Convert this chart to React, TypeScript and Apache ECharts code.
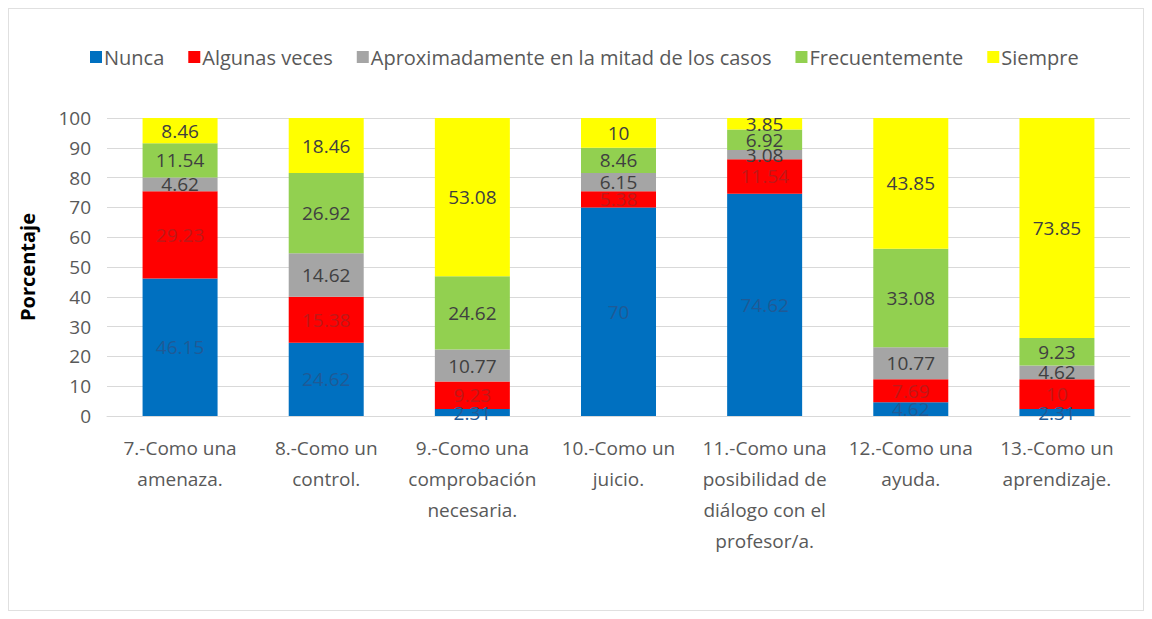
import React, { useEffect, useRef } from "react";
import * as echarts from "echarts";

const categories = [
  "7.-Como una\namenaza.",
  "8.-Como un\ncontrol.",
  "9.-Como una\ncomprobación\nnecesaria.",
  "10.-Como un\njuicio.",
  "11.-Como una\nposibilidad de\ndiálogo con el\nprofesor/a.",
  "12.-Como una\nayuda.",
  "13.-Como un\naprendizaje.",
];
const nunca = [46.15, 24.62, 2.31, 70, 74.62, 4.62, 2.31];
const algunas = [29.23, 15.38, 9.23, 5.38, 11.54, 7.69, 10];
const mitad = [4.62, 14.62, 10.77, 6.15, 3.08, 10.77, 4.62];
const frecuente = [11.54, 26.92, 24.62, 8.46, 6.92, 33.08, 9.23];
const siempre = [8.46, 18.46, 53.08, 10, 3.85, 43.85, 73.85];
const seriesNames = [
  "Nunca",
  "Algunas veces",
  "Aproximadamente en la mitad de los casos",
  "Frecuentemente",
  "Siempre",
];
const yTicks = [0, 10, 20, 30, 40, 50, 60, 70, 80, 90, 100];

const FONT = "'Open Sans', 'Noto Sans', sans-serif";

export default function App() {
  const ref = useRef<HTMLDivElement>(null);
  useEffect(() => {
    if (!ref.current) return;
    const chart = echarts.init(ref.current, undefined, { renderer: "svg" });
    const data = [nunca, algunas, mitad, frecuente, siempre];
    const colors = ["#0070C0", "#FF0000", "#A5A5A5", "#92D050", "#FFFF00"];
    const labelColors = ["#1f5a96", "#c01818", "#404040", "#404040", "#404040"];
    chart.setOption({
      animation: false,
      color: colors,
      legend: {
        top: 33,
        left: 76,
        itemWidth: 12,
        itemHeight: 12,
        itemGap: 24,
        icon: "rect",
        textStyle: { fontFamily: FONT, fontSize: 20, color: "#595959", padding: [0, 0, 0, -3] },
        data: seriesNames,
      },
      grid: { left: 98, right: 13, top: 109, bottom: 194 },
      xAxis: {
        type: "category",
        data: categories,
        axisTick: { show: false },
        axisLine: { lineStyle: { color: "#d9d9d9" } },
        axisLabel: {
          fontFamily: FONT,
          fontSize: 19,
          color: "#595959",
          lineHeight: 31,
          margin: 16,
          interval: 0,
        },
      },
      yAxis: {
        type: "value",
        min: 0,
        max: 100,
        interval: 10,
        name: "Porcentaje",
        nameLocation: "middle",
        nameGap: 70,
        nameTextStyle: { fontFamily: FONT, fontSize: 20, fontWeight: "bold", color: "#000" },
        axisLabel: {
          fontFamily: FONT,
          fontSize: 19,
          color: "#595959",
          margin: 16,
          formatter: (v: number) => (yTicks.includes(v) ? String(v) : ""),
        },
        splitLine: { lineStyle: { color: "#d9d9d9" } },
        axisLine: { show: false },
        axisTick: { show: false },
      },
      series: seriesNames.map((name, i) => ({
        name,
        type: "bar",
        stack: "total",
        barWidth: 75,
        data: data[i],
        itemStyle: { color: colors[i] },
        label: {
          show: true,
          position: "inside",
          fontFamily: FONT,
          fontSize: 19,
          color: labelColors[i],
          formatter: (p: any) => String(p.value),
        },
      })),
    });
    return () => chart.dispose();
  }, []);
  return (
    <div
      ref={ref}
      style={{ width: 1136, height: 603, border: "1px solid #e0e0e0", boxSizing: "border-box", margin: 0 }}
    />
  );
}
